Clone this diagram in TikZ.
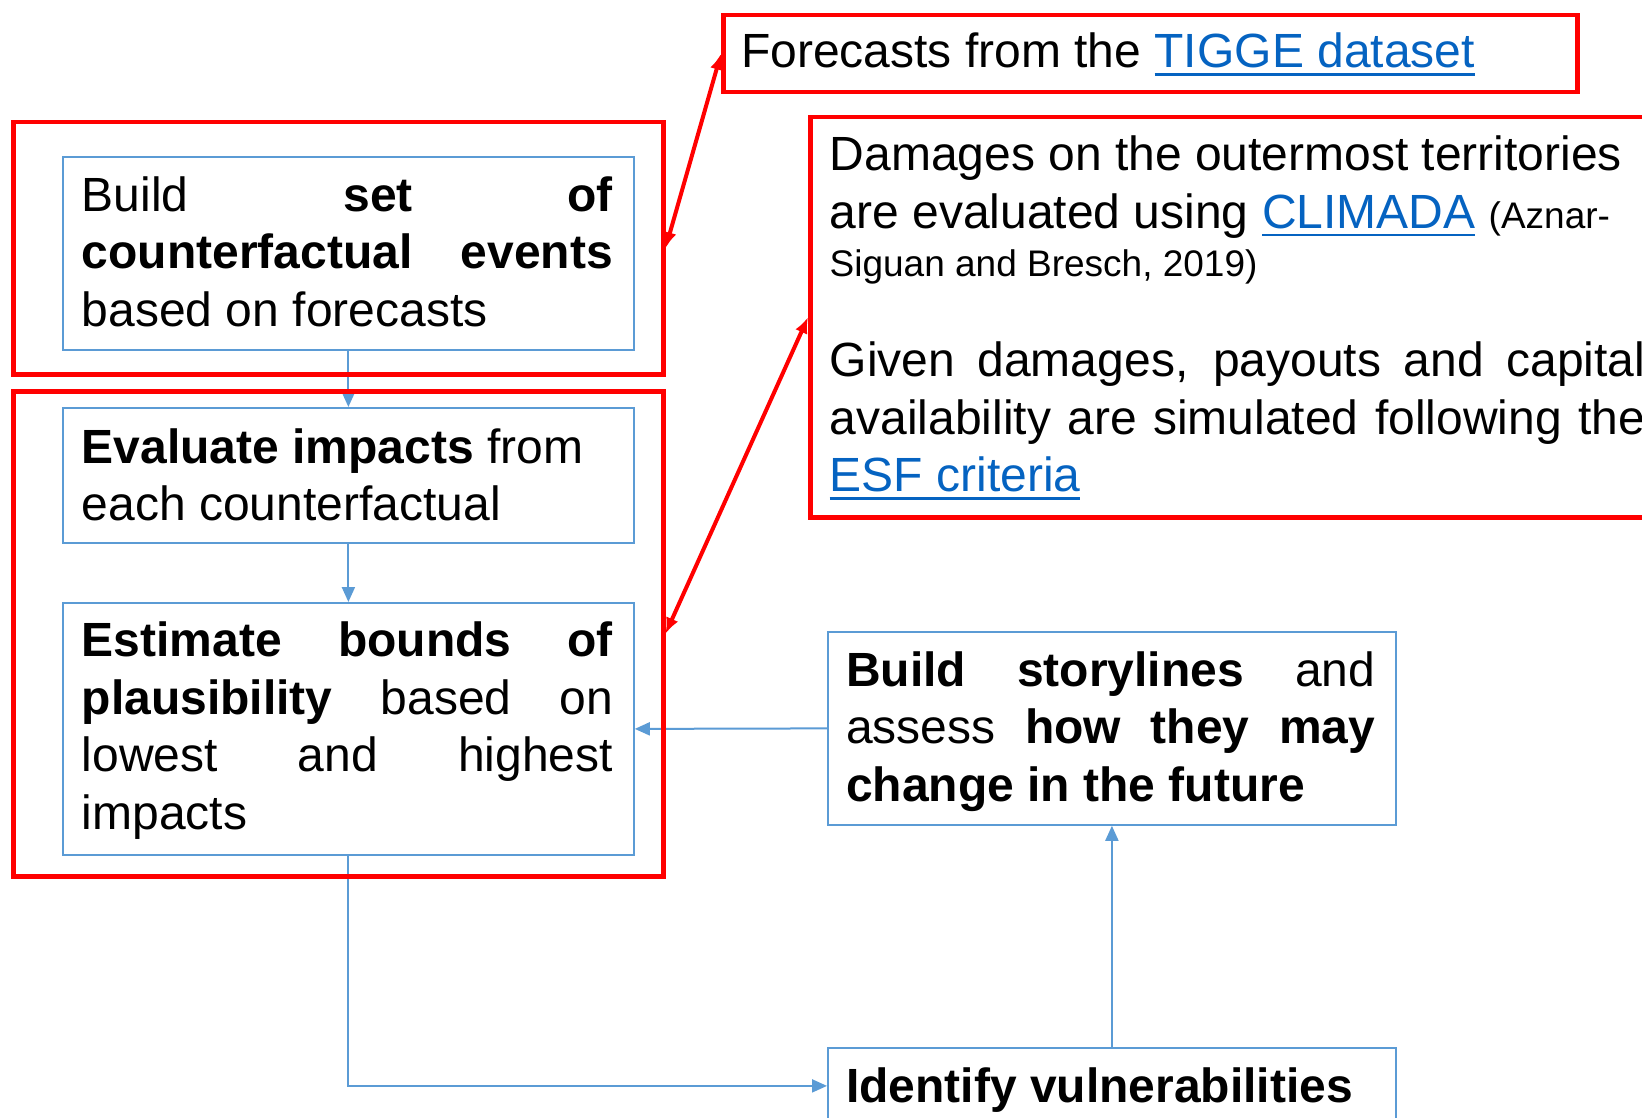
\documentclass[tikz,border=0pt]{standalone}
\usepackage{fontspec}
\setmainfont{Liberation Sans}
\usetikzlibrary{arrows.meta}
\definecolor{boxblue}{HTML}{5B9BD5}
\definecolor{linkblue}{HTML}{0563C1}
\definecolor{hlred}{HTML}{FF0000}
\newcommand\lnk[1]{\textcolor{linkblue}{\setbox0\hbox{#1}\rlap{\vrule height -5.5pt depth 8pt width \wd0}\box0}}
\newcommand\jl[2]{\hbox to #1{#2}}
\newcommand\nl[1]{\hbox{#1}}
\newcommand\lines[1]{\vtop{\baselineskip=57.5pt\lineskiplimit=-100pt\lineskip=0pt #1}}
\newcommand\smallcite{\fontsize{37}{44}\selectfont}
\tikzset{
  bbox/.style={draw=boxblue, line width=1.8pt, inner sep=0pt, anchor=north west},
  rbox/.style={draw=hlred, line width=4.5pt, inner sep=0pt, anchor=north west},
  txt/.style={anchor=base west, inner sep=0pt, font=\fontsize{48}{57.5}\selectfont},
  barrow/.style={draw=boxblue, line width=2pt, -{Triangle[length=15pt,width=13pt]}},
  rarrow/.style={draw=hlred, line width=4pt, {Latex[length=16pt,width=13pt]}-{Latex[length=16pt,width=13pt]}}
}
\begin{document}
\begin{tikzpicture}[x=1pt,y=-1pt]
\useasboundingbox (0,0) rectangle (1642,1118);
\clip (0,0) rectangle (1642,1118);
\fill[white] (0,0) rectangle (1642,1118);

% blue boxes
\node[bbox, minimum width=571pt, minimum height=193pt] (B1) at (62,156) {};
\node[bbox, minimum width=571pt, minimum height=135pt] (B2) at (62,407) {};
\node[bbox, minimum width=571pt, minimum height=252pt] (B3) at (62,602) {};
\node[bbox, minimum width=568pt, minimum height=193pt] (BS) at (827,631) {};
\node[bbox, minimum width=568pt, minimum height=76pt] (BI) at (827,1047) {};

% blue connectors
\draw[barrow] (B1.south) -- (B2.north);
\draw[barrow] (B2.south) -- (B3.north);
\draw[barrow] (BS.west) -- (B3.east);
\draw[barrow] (B3.south) |- (BI.west);
\draw[barrow] (BI.north) -- (BS.south);

% red boxes
\node[rbox, minimum width=650pt, minimum height=252pt] (R1) at (11,120) {};
\node[rbox, minimum width=650pt, minimum height=485pt] (R2) at (11,389) {};
\node[rbox, minimum width=854pt, minimum height=77pt] (RF) at (721,13) {};
\node[rbox, minimum width=892pt, minimum height=400pt] (RD) at (808,115) {};

% red arrows
\draw[rarrow] (R1.east) -- (RF.west);
\draw[rarrow] (R2.east) -- (RD.west);

% texts
\node[txt] (t1) at (81.7,211.4)
  {\lines{\jl{531pt}{Build \textbf{set of}}\jl{531pt}{\textbf{counterfactual events}}\nl{based on forecasts}}};
\node[txt] (t2) at (81.7,463)
  {\lines{\nl{\textbf{Evaluate impacts} from}\nl{each counterfactual}}};
\node[txt] (t3) at (81.7,656.8)
  {\lines{\jl{531pt}{\textbf{Estimate bounds of}}\jl{531pt}{\textbf{plausibility} based on}\jl{531pt}{lowest and highest}\nl{impacts}}};
\node[txt] (ts) at (846,686)
  {\lines{\jl{529pt}{\textbf{Build storylines} and}\jl{529pt}{assess \textbf{how they may}}\nl{\textbf{change in the future}}}};
\node[txt] (ti) at (846,1102.7)
  {\textbf{Identify vulnerabilities}};
\node[txt] (tf) at (741,67.9)
  {Forecasts from the \lnk{TIGGE dataset}};
\node[txt] (td1) at (829.5,170.7)
  {\lines{\nl{Damages on the outermost territories}\nl{are evaluated using \lnk{CLIMADA} {\smallcite (Aznar-}}\vskip-9.3pt\nl{\smallcite Siguan and Bresch, 2019)}}};
\node[txt] (td2) at (829.5,376.8)
  {\lines{\jl{815.5pt}{Given damages, payouts and capital}\jl{815.5pt}{availability are simulated following the}\nl{\lnk{ESF criteria}}}};
\end{tikzpicture}
\end{document}
